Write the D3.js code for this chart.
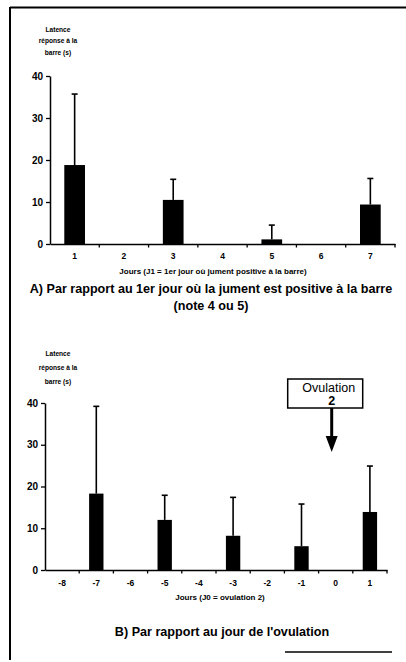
<!DOCTYPE html>
<html><head><meta charset="utf-8">
<script src="https://cdn.jsdelivr.net/npm/d3@7"></script>
<style>body{margin:0;background:#fff}svg{display:block}text{font-family:"Liberation Sans",Arial,sans-serif;fill:#000}</style>
</head><body>
<svg id="c" width="406" height="662"></svg>
<script>
// ---- data ----
const daysA = ["1","2","3","4","5","6","7"];
const meanA = [18.8, 0, 10.5, 0, 1.1, 0, 9.4];
const sdA   = [16.9, 0, 4.9, 0, 3.4, 0, 6.2];
const daysB = ["-8","-7","-6","-5","-4","-3","-2","-1","0","1"];
const meanB = [0, 18.3, 0, 12.0, 0, 8.2, 0, 5.7, 0, 13.9];
const sdB   = [0, 20.9, 0, 5.9, 0, 9.2, 0, 10.1, 0, 11.0];
const yTicks = [0, 10, 20, 30, 40];
const yLabel = ["Latence", "réponse à la", "barre (s)"];
const xTitleA = "Jours (J1 = 1er jour où jument positive à la barre)";
const xTitleB = "Jours (J0 = ovulation 2)";
const captionA = ["A) Par rapport au 1er jour où la jument est positive à la barre", "(note 4 ou 5)"];
const captionB = ["B) Par rapport au  jour de l'ovulation"];
const annot = ["Ovulation", "2"];

const svg = d3.select("#c");

// frame
svg.append("line").attr("x1",10).attr("x2",406).attr("y1",7.5).attr("y2",7.5).attr("stroke","#000").attr("stroke-width",2);
svg.append("line").attr("x1",10).attr("x2",10).attr("y1",7).attr("y2",660).attr("stroke","#000").attr("stroke-width",2);
svg.append("line").attr("x1",285).attr("x2",392).attr("y1",652).attr("y2",652).attr("stroke","#000").attr("stroke-width",1.5);

function panel(o){
  const g = svg.append("g");
  const x = d3.scaleBand().domain(o.cats).range([o.x0, o.x1]).paddingInner(0.58).paddingOuter(0.29);
  const xb = d3.scaleBand().domain(o.cats).range([o.x0, o.x1]);
  const y = d3.scaleLinear().domain([0, 40]).range([o.y0, o.y40]);

  // y label
  const yl = g.append("text").attr("text-anchor","middle").attr("font-size",6.6).attr("font-weight","bold");
  o.ylab.forEach((t,i)=> yl.append("tspan").attr("x",58).attr("y",o.ylY + i*o.ylDy).text(t));

  // y axis
  const ya = g.append("g").attr("transform",`translate(${o.x0},0)`)
    .call(d3.axisLeft(y).tickValues(yTicks).tickSize(4).tickSizeOuter(0).tickPadding(3));
  ya.select(".domain").attr("stroke-width",1.5);
  ya.selectAll(".tick line").attr("stroke-width",1.3);
  ya.selectAll("text").attr("font-size",10).attr("font-weight","bold").attr("font-family","Liberation Sans, Arial, sans-serif");

  // bars
  g.selectAll("rect.bar").data(o.cats.map((c,i)=>({c, m:o.mean[i], s:o.sd[i]})).filter(d=>d.m>0))
    .join("rect").attr("x",d=>x(d.c)).attr("width",x.bandwidth())
    .attr("y",d=>y(d.m)).attr("height",d=>y(0)-y(d.m)).attr("fill","#000");
  // error bars
  const eb = o.cats.map((c,i)=>({c, m:o.mean[i], s:o.sd[i]})).filter(d=>d.s>0);
  g.selectAll("line.err").data(eb).join("line")
    .attr("x1",d=>x(d.c)+x.bandwidth()/2).attr("x2",d=>x(d.c)+x.bandwidth()/2)
    .attr("y1",d=>y(d.m)).attr("y2",d=>y(d.m+d.s)).attr("stroke","#000").attr("stroke-width",1.6);
  g.selectAll("line.cap").data(eb).join("line")
    .attr("x1",d=>x(d.c)+x.bandwidth()/2-3).attr("x2",d=>x(d.c)+x.bandwidth()/2+3)
    .attr("y1",d=>y(d.m+d.s)).attr("y2",d=>y(d.m+d.s)).attr("stroke","#000").attr("stroke-width",1.6);

  // x axis
  const xa = g.append("g").attr("transform",`translate(0,${o.y0})`)
    .call(d3.axisBottom(xb).tickSize(0).tickPadding(o.xPad).tickSizeOuter(0));
  xa.select(".domain").attr("stroke-width",1.5);
  xa.selectAll("text").attr("font-size",8.5).attr("font-weight","bold").attr("font-family","Liberation Sans, Arial, sans-serif");
  const bounds = o.cats.slice(1).map(c=>xb(c)).concat([o.x1]);
  g.selectAll("line.xt").data(bounds).join("line")
    .attr("x1",d=>d).attr("x2",d=>d).attr("y1",o.y0).attr("y2",o.y0+3.5).attr("stroke","#000").attr("stroke-width",1.3);

  // x title
  g.append("text").attr("x",o.xtX).attr("y",o.xtY).attr("text-anchor","middle")
    .attr("font-size",8).attr("font-weight","bold").text(o.xtitle);
  // caption
  o.cap.forEach((t,i)=> g.append("text").attr("x",o.capX).attr("y",o.capY + i*17).attr("text-anchor","middle")
    .attr("font-size",12.6).attr("font-weight","bold").text(t));
  return {g, xb, y};
}

panel({cats:daysA, mean:meanA, sd:sdA, x0:50, x1:395, y0:244, y40:76,
  ylab:yLabel, ylY:31.5, ylDy:11.7, xPad:9, xtitle:xTitleA, xtX:213, xtY:274,
  cap:captionA, capX:211, capY:292.5});

const pB = panel({cats:daysB, mean:meanB, sd:sdB, x0:45, x1:387, y0:570, y40:403,
  ylab:yLabel, ylY:355.5, ylDy:14.2, xPad:10, xtitle:xTitleB, xtX:220, xtY:600,
  cap:captionB, capX:222, capY:636});

// annotation box + arrow
const ax = pB.xb("0") + pB.xb.bandwidth()/2 - 4;
const ag = svg.append("g");
ag.append("rect").attr("x",ax-44).attr("y",379).attr("width",75).attr("height",29)
  .attr("fill","#fff").attr("stroke","#000").attr("stroke-width",1.5);
const at = ag.append("text").attr("text-anchor","middle").attr("font-size",12.5);
at.append("tspan").attr("x",ax-3).attr("y",391.5).text(annot[0]);
at.append("tspan").attr("x",ax).attr("y",405).attr("font-weight","bold").text(annot[1]);
ag.append("line").attr("x1",ax).attr("x2",ax).attr("y1",408).attr("y2",438).attr("stroke","#000").attr("stroke-width",3);
ag.append("path").attr("d",`M${ax-6},436 L${ax+6},436 L${ax},452 Z`).attr("fill","#000");
</script>
</body></html>
